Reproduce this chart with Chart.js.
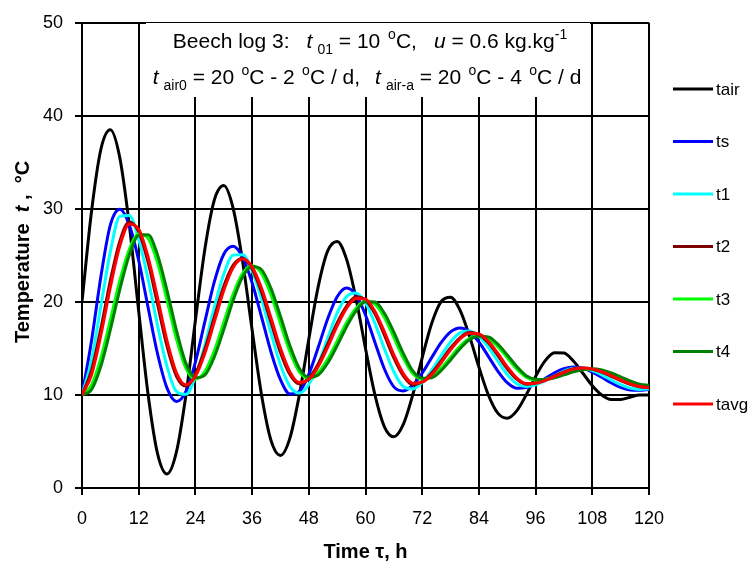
<!DOCTYPE html>
<html>
<head>
<meta charset="utf-8">
<script src="https://cdn.jsdelivr.net/npm/chart.js@4.4.0/dist/chart.umd.min.js"></script>
<style>
  html, body { margin: 0; padding: 0; background: #fff; }
  #wrap { width: 752px; height: 568px; }
</style>
</head>
<body>
<div id="wrap"><canvas id="chartTemp"></canvas></div>
<script>
// ---- data (time in hours, temperatures in °C) ----
const hours = [
  0, 2, 4, 6, 8, 10, 12, 14, 16, 18, 20, 22,
  24, 26, 28, 30, 32, 34, 36, 38, 40, 42, 44, 46,
  48, 50, 52, 54, 56, 58, 60, 62, 64, 66, 68, 70,
  72, 74, 76, 78, 80, 82, 84, 86, 88, 90, 92, 94,
  96, 98, 100, 102, 104, 106, 108, 110, 112, 114, 116, 118,
  120
];

const tair = [
  20, 29.67, 36.41, 38.5, 35.5, 28.33,
  19, 10.0, 3.66, 1.5, 3.9, 10.0,
  18, 25.67, 30.94, 32.5, 30.03, 24.33,
  17, 10.0, 5.12, 3.5, 5.36, 10.0,
  16, 21.67, 25.48, 26.5, 24.57, 20.33,
  15, 10.0, 6.58, 5.5, 6.83, 10.0,
  14, 17.67, 20.02, 20.5, 19.11, 16.33,
  13, 10.0, 8.05, 7.5, 8.29, 10.0,
  12, 13.67, 14.55, 14.5, 13.64, 12.33,
  11, 10.0, 9.51, 9.5, 9.76, 10.0,
  10
];

const ts = [
  10.0, 15.78, 22.74, 28.28, 29.97, 28.29,
  24.45, 19.38, 14.40, 10.73, 9.30, 10.39,
  13.54, 17.88, 22.16, 25.13, 25.98, 24.79,
  22.06, 18.38, 14.62, 11.64, 10.11, 10.37,
  12.22, 15.12, 18.20, 20.56, 21.50, 20.76,
  18.59, 15.64, 12.79, 10.87, 10.43, 11.05,
  12.35, 14.01, 15.62, 16.78, 17.20, 16.80,
  15.69, 14.15, 12.57, 11.32, 10.73, 10.79,
  11.19, 11.77, 12.38, 12.83, 13.0, 12.86,
  12.46, 11.90, 11.31, 10.81, 10.54, 10.5,
  10.6
];

const t1 = [
  10.0, 13.70, 19.55, 25.40, 29.2, 29.3,
  26.72, 22.44, 17.45, 13.05, 10.37, 10.07,
  11.95, 15.38, 19.43, 22.97, 25.03, 25.07,
  23.35, 20.29, 16.65, 13.25, 10.92, 10.20,
  11.12, 13.29, 16.11, 18.79, 20.57, 20.96,
  19.89, 17.70, 14.97, 12.49, 10.91, 10.65,
  11.33, 12.64, 14.23, 15.70, 16.67, 16.88,
  16.31, 15.13, 13.64, 12.20, 11.21, 10.90,
  11.08, 11.52, 12.07, 12.57, 12.86, 12.87,
  12.61, 12.16, 11.61, 11.10, 10.73, 10.60,
  10.65
];

const t2 = [
  10.0, 12.63, 17.16, 22.30, 26.51, 28.6,
  27.53, 24.24, 19.74, 15.21, 12.01, 10.95,
  12.25, 14.92, 18.36, 21.67, 23.95, 24.7,
  23.53, 21.05, 17.80, 14.57, 12.20, 11.2,
  11.80, 13.32, 15.48, 17.74, 19.55, 20.55,
  20.20, 18.72, 16.43, 13.98, 12.06, 11.1,
  11.45, 12.35, 13.66, 15.05, 16.14, 16.75,
  16.49, 15.60, 14.25, 12.82, 11.70, 11.15,
  11.28, 11.60, 12.05, 12.49, 12.82, 12.90,
  12.77, 12.45, 12.01, 11.55, 11.14, 10.87,
  10.78
];

const t3 = [
  10.0, 11.06, 13.98, 18.05, 22.28, 25.64,
  27.30, 26.82, 24.20, 20.19, 16.00, 12.85,
  11.70, 12.52, 14.75, 17.80, 20.85, 23.08,
  23.90, 23.07, 20.78, 17.69, 14.64, 12.49,
  11.80, 12.40, 13.85, 15.79, 17.78, 19.33,
  20.07, 19.76, 18.33, 16.19, 13.97, 12.30,
  11.70, 12.01, 12.88, 14.05, 15.23, 16.09,
  16.40, 16.08, 15.20, 14.00, 12.80, 11.92,
  11.60, 11.69, 11.92, 12.24, 12.54, 12.75,
  12.79, 12.63, 12.28, 11.84, 11.42, 11.11,
  11.0
];

const t4 = [
  10.0, 10.56, 13.11, 17.01, 21.33, 25.01,
  27.15, 27.21, 25.03, 21.22, 16.92, 13.39,
  11.85, 12.14, 14.09, 17.04, 20.19, 22.70,
  23.8, 23.46, 21.45, 18.46, 15.29, 12.85,
  11.9, 12.14, 13.43, 15.30, 17.34, 19.04,
  20.02, 19.98, 18.78, 16.74, 14.46, 12.58,
  11.8, 11.86, 12.62, 13.76, 14.97, 15.94,
  16.3, 16.23, 15.46, 14.30, 13.06, 12.07,
  11.7, 11.65, 11.85, 12.16, 12.48, 12.72,
  12.81, 12.69, 12.38, 11.95, 11.51, 11.16,
  11.05
];

const tavg = [
  10.0, 12.15, 16.45, 21.58, 26.0, 28.35,
  27.8, 24.79, 20.41, 15.81, 12.36, 11.10,
  12.00, 14.48, 17.85, 21.23, 23.70, 24.60,
  23.77, 21.46, 18.28, 15.01, 12.48, 11.34,
  11.67, 13.06, 15.15, 17.43, 19.33, 20.38,
  20.30, 18.98, 16.78, 14.32, 12.29, 11.26,
  11.38, 12.19, 13.46, 14.86, 16.01, 16.64,
  16.56, 15.76, 14.46, 13.02, 11.83, 11.23,
  11.26, 11.55, 11.98, 12.43, 12.78, 12.90,
  12.80, 12.50, 12.08, 11.62, 11.19, 10.90,
  10.80
];

const seriesNames  = ['tair', 'ts', 't1', 't2', 't3', 't4', 'tavg'];
const seriesValues = [tair, ts, t1, t2, t3, t4, tavg];
const seriesColors = ['#000000', '#0000ff', '#00ffff', '#800000', '#00ff00', '#008000', '#ff0000'];

const FONT = '"Liberation Sans", Arial, sans-serif';
Chart.defaults.font.family = FONT;
Chart.defaults.color = '#000';

// draws a run of text parts (italic / subscript / superscript)
function drawRich(ctx, parts, x, y, size, bold, align) {
    const fontFor = p => {
        const sz = (p.sub || p.sup) ? Math.round(size * 0.68) : size;
        return (p.i ? 'italic ' : '') + (bold ? 'bold ' : '') + sz + 'px ' + FONT;
    };
    let w = 0;
    parts.forEach(p => { ctx.font = fontFor(p); w += (p.gap || 0) + ctx.measureText(p.t).width; });
    let cx = align === 'center' ? x - w / 2 : x;
    parts.forEach(p => {
        ctx.font = fontFor(p);
        cx += p.gap || 0;
        const dy = p.sub ? size * 0.28 : (p.sup ? -size * 0.42 : 0);
        ctx.fillText(p.t, cx, y + dy);
        cx += ctx.measureText(p.t).width;
    });
}

const titleLine1 = [
    { t: 'Beech log 3:' }, { t: 't', i: 1, gap: 17 }, { t: '01', sub: 1, gap: 5 }, { t: ' = 10 ' },
    { t: 'o', sup: 1, gap: 2 }, { t: 'C,' }, { t: 'u', i: 1, gap: 17 }, { t: ' = 0.6 kg.kg' }, { t: '-1', sup: 1 }
];
const titleLine2 = [
    { t: 't', i: 1 }, { t: 'air0', sub: 1, gap: 5 }, { t: ' = 20 ' }, { t: 'o', sup: 1, gap: 1.5 },
    { t: 'C - 2 ' }, { t: 'o', sup: 1, gap: 1.5 }, { t: 'C / d,' }, { t: 't', i: 1, gap: 15 },
    { t: 'air-a', sub: 1, gap: 5 }, { t: ' = 20 ' }, { t: 'o', sup: 1, gap: 1.5 }, { t: 'C - 4 ' },
    { t: 'o', sup: 1, gap: 1.5 }, { t: 'C / d' }
];
const yTitle = [
    { t: 'Temperature  ' }, { t: 't', i: 1 }, { t: ' ,  °C' }
];

// text box over the grid, y axis title and legend
const decorPlugin = {
    id: 'decor',
    beforeDatasetsDraw(chart) {
        const ctx = chart.ctx;
        ctx.save();
        ctx.fillStyle = '#fff';
        ctx.fillRect(146, 23, 444, 74);
        ctx.fillStyle = '#000';
        ctx.textBaseline = 'alphabetic';
        drawRich(ctx, titleLine1, 370, 48, 21, false, 'center');
        drawRich(ctx, titleLine2, 367, 84, 21, false, 'center');
        ctx.restore();
    },
    afterDraw(chart) {
        const ctx = chart.ctx;
        ctx.save();
        ctx.fillStyle = '#000';
        ctx.textBaseline = 'alphabetic';
        ctx.translate(29, 343);
        ctx.rotate(-Math.PI / 2);
        drawRich(ctx, yTitle, 0, 0, 20, true, 'left');
        ctx.restore();

        ctx.save();
        chart.data.datasets.forEach((ds, i) => {
            const y = 89 + i * 52.5;
            ctx.strokeStyle = ds.borderColor;
            ctx.lineWidth = 3;
            ctx.beginPath();
            ctx.moveTo(673, y);
            ctx.lineTo(713, y);
            ctx.stroke();
            ctx.fillStyle = '#000';
            ctx.font = '17px ' + FONT;
            ctx.textBaseline = 'middle';
            ctx.fillText(ds.label, 716, y + 1);
        });
        ctx.restore();
    }
};

new Chart(document.getElementById('chartTemp'), {
    type: 'line',
    data: {
        labels: hours,
        datasets: seriesNames.map((name, i) => ({
            label: name,
            data: seriesValues[i],
            borderColor: seriesColors[i],
            backgroundColor: seriesColors[i],
            borderWidth: 3,
            pointRadius: 0,
            cubicInterpolationMode: 'monotone',
            order: seriesNames.length - i
        }))
    },
    options: {
        responsive: true,
        maintainAspectRatio: false,
        animation: false,
        layout: { padding: { left: 0, right: 103, top: 16, bottom: 0 } },
        plugins: { legend: { display: false }, tooltip: { enabled: false } },
        scales: {
            x: {
                type: 'linear', min: 0, max: 120,
                ticks: { stepSize: 12, font: { size: 18 }, padding: 13, maxRotation: 0 },
                grid: { color: '#000', lineWidth: 2, tickLength: 7 },
                border: { color: '#000', width: 2 },
                title: { display: true, text: 'Time τ, h', font: { size: 20, weight: 'bold' }, padding: { top: 4, bottom: 4 } },
                afterFit: s => { s.height = 80; }
            },
            y: {
                min: 0, max: 50,
                ticks: { stepSize: 10, font: { size: 18 }, padding: 12 },
                grid: { color: '#000', lineWidth: 2, tickLength: 7 },
                border: { color: '#000', width: 2 },
                afterFit: s => { s.width = 82; }
            }
        }
    },
    plugins: [decorPlugin]
});
</script>
</body>
</html>
